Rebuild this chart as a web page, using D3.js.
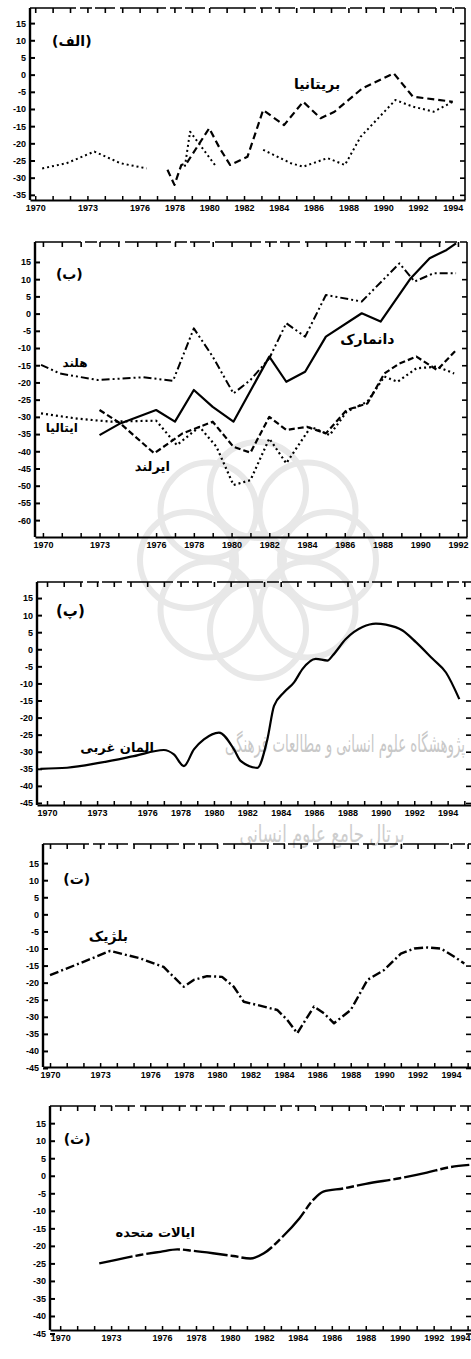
<!DOCTYPE html>
<html>
<head>
<meta charset="utf-8">
<script src="https://cdn.jsdelivr.net/npm/d3@7"></script>
<style>
  body { margin: 0; background: #fff; }
  svg { display: block; }
  .tick text { font-family: "Liberation Sans Narrow", "Liberation Sans", sans-serif; font-weight: bold; font-size: 9px; fill: #000; }
  .fa { font-family: "DejaVu Sans", sans-serif; font-weight: bold; fill: #000; }
</style>
</head>
<body>
<svg id="chart" width="471" height="1359"></svg>
<script>
// ---- tick labels ----
const yTicksA = [15, 10, 5, 0, -5, -10, -15, -20, -25, -30, -35];
const yTicksB = [15, 10, 5, 0, -5, -10, -15, -20, -25, -30, -35, -40, -45, -50, -55, -60];
const yTicksC = [15, 10, 5, 0, -5, -10, -15, -20, -25, -30, -35, -40, -45];
const xTicksTo92 = [1970, 1973, 1976, 1978, 1980, 1982, 1984, 1986, 1988, 1990, 1992];
const xTicksTo94 = [1970, 1973, 1976, 1978, 1980, 1982, 1984, 1986, 1988, 1990, 1992, 1994];

// ---- (الف) Britain, two series (null = gap in the line) ----
const ukDashYears  = [1977.6, 1978.0, 1978.4, 1978.7, 1980.0, 1980.6, 1981.2, 1982.2, 1983.1, 1984.3, 1985.4, 1986.4, 1987.2, 1988.8, 1990.6, 1991.7, 1994.0];
const ukDashValues = [-27.7, -32.1, -26.3, -25.8, -15.6, -21.4, -26.3, -23.9, -10.3, -14.7, -7.9, -12.7, -10.8, -4.0, 0.4, -6.4, -7.9];
const ukDotYears   = [1970.4, 1971.8, 1973.4, 1974.9, 1976.4, null, 1978.6, 1978.9, 1980.4, null, 1983.1, 1984.7, 1985.4, 1986.8, 1987.8, 1988.7, 1990.7, 1991.7, 1992.9, 1994.0];
const ukDotValues  = [-27.3, -25.8, -22.4, -25.8, -27.3, null, -26.8, -16.6, -26.8, null, -21.9, -25.8, -26.8, -24.3, -26.3, -18.1, -7.4, -9.3, -10.8, -7.9];

// ---- (ب) Netherlands, Denmark, Ireland, Italy ----
const nlYears  = [1969.9, 1970.9, 1972.9, 1975.3, 1976.9, 1978.0, 1979.0, 1980.1, 1981.0, 1982.0, 1982.9, 1983.9, 1985.0, 1986.9, 1988.9, 1989.7, 1990.7, 1991.9];
const nlValues = [-14.9, -17.4, -19.3, -18.5, -19.5, -4.3, -12.5, -23.2, -19.3, -13.0, -2.8, -6.7, 5.4, 3.5, 14.6, 9.3, 11.7, 11.7];
const dkYears  = [1973.0, 1974.1, 1976.0, 1977.0, 1978.0, 1979.0, 1980.1, 1982.0, 1982.9, 1983.9, 1985.0, 1986.9, 1987.9, 1989.5, 1990.5, 1991.4, 1991.9];
const dkValues = [-35.3, -31.9, -28.0, -31.4, -22.2, -27.1, -31.4, -12.5, -19.8, -16.9, -6.7, 0.1, -2.3, 10.3, 16.1, 18.5, 20.4];
const ieYears  = [1973.0, 1974.1, 1975.9, 1977.4, 1979.0, 1980.1, 1981.0, 1982.0, 1982.9, 1984.0, 1985.0, 1986.1, 1987.2, 1988.1, 1988.9, 1989.8, 1990.9, 1991.9];
const ieValues = [-28.0, -31.9, -40.6, -34.8, -31.4, -38.7, -40.4, -30.0, -33.8, -32.9, -34.8, -28.0, -26.1, -17.4, -14.5, -12.5, -16.4, -10.6];
const itYears  = [1969.9, 1971.8, 1973.6, 1976.0, 1977.1, 1978.3, 1979.2, 1980.1, 1981.0, 1982.0, 1982.9, 1984.2, 1985.2, 1986.1, 1987.2, 1988.1, 1988.8, 1989.8, 1990.9, 1991.8];
const itValues = [-29.0, -30.5, -31.4, -31.1, -38.2, -32.9, -38.7, -49.8, -48.4, -36.3, -43.5, -32.9, -35.3, -28.5, -25.6, -18.3, -19.8, -15.9, -15.4, -17.4];

// ---- (پ) West Germany ----
const deYears  = [1969.6, 1971.2, 1973.2, 1975.2, 1977.0, 1977.6, 1978.2, 1978.8, 1979.4, 1980.3, 1981.2, 1981.6, 1982.6, 1983.2, 1983.6, 1984.2, 1984.8, 1985.3, 1986.1, 1986.8, 1987.1, 1987.9, 1988.9, 1989.7, 1990.3, 1991.3, 1992.1, 1993.1, 1993.9, 1994.7];
const deValues = [-35.0, -34.7, -33.2, -31.3, -29.5, -30.8, -34.2, -29.3, -26.4, -24.4, -29.3, -32.7, -34.7, -26.4, -16.6, -12.6, -9.7, -5.8, -2.8, -3.3, -1.9, 3.0, 6.5, 7.5, 7.2, 5.5, 2.1, -2.8, -6.8, -14.6];

// ---- (ت) Belgium ----
const beYears  = [1970.0, 1972.0, 1973.6, 1975.4, 1976.8, 1977.4, 1978.0, 1978.6, 1979.4, 1980.3, 1981.0, 1981.6, 1982.8, 1983.6, 1984.2, 1984.8, 1985.8, 1986.4, 1987.0, 1988.0, 1989.0, 1990.0, 1991.0, 1991.8, 1992.6, 1993.4, 1994.2, 1994.8];
const beValues = [-17.8, -13.9, -10.7, -12.9, -15.4, -18.3, -21.2, -19.2, -18.1, -18.3, -21.2, -25.6, -27.0, -28.0, -30.9, -34.8, -27.0, -29.0, -31.9, -28.0, -19.2, -16.3, -11.5, -10.0, -9.7, -10.0, -12.4, -14.4];

// ---- (ث) United States ----
const usYears  = [1972.3, 1973.3, 1974.7, 1975.9, 1976.9, 1977.8, 1979.0, 1980.2, 1981.2, 1982.0, 1983.1, 1984.1, 1984.9, 1985.5, 1986.7, 1988.0, 1990.0, 1991.6, 1992.9, 1994.1];
const usValues = [-25.0, -24.0, -22.6, -21.7, -21.0, -21.4, -22.1, -22.9, -23.6, -22.1, -17.4, -12.1, -6.9, -4.5, -3.6, -2.3, -0.7, 0.9, 2.4, 3.1];

const zip = (ys, vs) => ys.map((yr, i) => ({ yr: yr, v: vs[i] }));

// panel layout (pixels) and what goes in each panel
const panels = [
  { left: 30, right: 465, top: 8, bottom: 200, xDomain: [1969.7, 1994.7], yDomain: [19.4, -36.5],
    yTicks: yTicksA, xTicks: xTicksTo94, rightLine: true,
    series: [
      { data: zip(ukDashYears, ukDashValues), dash: '7,4', width: 2.2 },
      { data: zip(ukDotYears, ukDotValues), dash: '2,3', width: 2 }
    ],
    labels: [
      { text: '(الف)', yr: 1972.1, v: 9.5, size: 14 },
      { text: 'بریتانیا', yr: 1986.2, v: -3.0, size: 14 }
    ] },
  { left: 35, right: 467, top: 242, bottom: 537, xDomain: [1969.58, 1992.48], yDomain: [20.8, -64.9],
    yTicks: yTicksB, xTicks: xTicksTo92, rightLine: true,
    series: [
      { data: zip(nlYears, nlValues), dash: '8,3,2,3,2,3', width: 2 },
      { data: zip(dkYears, dkValues), dash: null, width: 2.2 },
      { data: zip(ieYears, ieValues), dash: '6,3', width: 2.2 },
      { data: zip(itYears, itValues), dash: '2,3', width: 2.2 }
    ],
    labels: [
      { text: '(ب)', yr: 1971.4, v: 11.2, size: 14 },
      { text: 'هلند', yr: 1971.7, v: -14.4, size: 12 },
      { text: 'ایتالیا', yr: 1971.0, v: -33.3, size: 12 },
      { text: 'ایرلند', yr: 1975.8, v: -44.6, size: 13 },
      { text: 'دانمارک', yr: 1987.2, v: -7.7, size: 14 }
    ] },
  { left: 37, right: 471, top: 582, bottom: 805, xDomain: [1969.4, 1995.4], yDomain: [19.7, -45.6],
    yTicks: yTicksC, xTicks: xTicksTo94, rightLine: false,
    series: [ { data: zip(deYears, deValues), dash: null, width: 2.2, smooth: true } ],
    labels: [
      { text: '(پ)', yr: 1971.4, v: 11.2, size: 15 },
      { text: 'المان غربی', yr: 1974.2, v: -29.2, size: 13 }
    ] },
  { left: 43, right: 471, top: 844, bottom: 1067, xDomain: [1969.58, 1995.2], yDomain: [20.6, -44.7],
    yTicks: yTicksC, xTicks: xTicksTo94, rightLine: false,
    series: [ { data: zip(beYears, beValues), dash: '9,3,2,3', width: 2.4 } ],
    labels: [
      { text: '(ت)', yr: 1971.6, v: 10.0, size: 14 },
      { text: 'بلژیک', yr: 1973.5, v: -6.6, size: 14 }
    ] },
  { left: 50, right: 471, top: 1106, bottom: 1330, xDomain: [1969.4, 1994.2], yDomain: [19.9, -44],
    yTicks: yTicksC, xTicks: xTicksTo94, rightLine: false,
    series: [ { data: zip(usYears, usValues), dash: '34,3,8,3', width: 2.4, smooth: true } ],
    labels: [
      { text: '(ث)', yr: 1971.0, v: 10.1, size: 14 },
      { text: 'ایالات متحده', yr: 1975.6, v: -16.4, size: 13 }
    ] }
];

const W = 471;
const svg = d3.select('#chart');
svg.append('rect').attr('width', W).attr('height', 1359).attr('fill', '#fff');

// faint watermark behind the charts
const wm = svg.append('g').attr('fill', 'none').attr('stroke', '#e8e8e8').attr('stroke-width', 6);
const wmC = [258, 560];
d3.range(8).forEach(i => {
  const a = i * Math.PI / 4;
  wm.append('circle').attr('cx', wmC[0] + 70 * Math.cos(a)).attr('cy', wmC[1] + 70 * Math.sin(a)).attr('r', 48);
});
wm.append('circle').attr('cx', wmC[0]).attr('cy', wmC[1]).attr('r', 26);

// watermark lines of text, scaled to fit their box
function fitText(txt, cx, cy, width, size, color) {
  const t = svg.append('text').attr('x', 0).attr('y', 0).attr('text-anchor', 'middle')
    .attr('font-family', 'DejaVu Sans, sans-serif').attr('font-size', size).attr('fill', color)
    .text(txt);
  const bb = t.node().getBBox();
  const k = width / bb.width;
  t.attr('transform', `translate(${cx},${cy}) scale(${k},1.2)`);
}
fitText('پژوهشگاه علوم انسانی و مطالعات فرهنگی', 345, 752, 240, 20, '#c8c8c8');
fitText('پرتال جامع علوم انسانی', 322, 842, 165, 20, '#cdcdcd');

panels.forEach((p, k) => {
  const g = svg.append('g');
  const x = d3.scaleLinear().domain(p.xDomain).range([p.left, p.right]);
  const y = d3.scaleLinear().domain(p.yDomain).range([p.top, p.bottom]);
  const years = d3.range(Math.ceil(p.xDomain[0]), Math.floor(p.xDomain[1]) + 1);

  // top border: broken line with ticks hanging down
  g.append('line').attr('x1', p.left).attr('x2', p.right).attr('y1', p.top).attr('y2', p.top)
    .attr('stroke', '#000').attr('stroke-width', 1.6).attr('stroke-dasharray', '46,4,12,3,20,5');
  g.append('g').attr('transform', `translate(0,${p.top})`)
    .call(d3.axisTop(x).tickValues(years).tickSize(-5).tickSizeOuter(0).tickFormat(''))
    .call(s => s.select('.domain').remove())
    .call(s => s.selectAll('line').attr('stroke-width', 1.6));

  // right side ticks
  if (p.rightLine) {
    g.append('line').attr('x1', p.right).attr('x2', p.right).attr('y1', p.top).attr('y2', p.bottom)
      .attr('stroke', '#000').attr('stroke-width', 1.6);
  }
  g.append('g').attr('transform', `translate(${p.right - 4},0)`)
    .call(d3.axisRight(y).tickValues(p.yTicks).tickSize(-5).tickSizeOuter(0).tickFormat(''))
    .call(s => s.select('.domain').remove())
    .call(s => s.selectAll('line').attr('stroke-width', 1.6).attr('transform', 'translate(4,0)'));

  // bottom axis: yearly ticks pointing up + year labels
  g.append('g').attr('transform', `translate(0,${p.bottom})`)
    .call(d3.axisBottom(x).tickValues(years).tickSize(-4).tickSizeOuter(0).tickFormat(''))
    .call(s => s.select('.domain').attr('stroke-width', 2))
    .call(s => s.selectAll('line').attr('stroke-width', 1.5));
  g.append('g').attr('transform', `translate(0,${p.bottom})`)
    .call(d3.axisBottom(x).tickValues(p.xTicks).tickSize(0).tickPadding(5).tickFormat(d => d))
    .call(s => s.select('.domain').remove())
    .call(s => s.selectAll('text')
      .filter(d => x(d) + 11 > W)
      .attr('text-anchor', 'end')
      .attr('x', d => W - 1 - x(d)));

  // left axis: thick, ticks pointing inside
  g.append('g').attr('transform', `translate(${p.left},0)`)
    .call(d3.axisLeft(y).tickValues(p.yTicks).tickSize(-5).tickSizeOuter(0).tickPadding(4).tickFormat(d => d))
    .call(s => s.select('.domain').attr('stroke-width', 2.4).attr('d', `M0,${p.top}V${p.bottom}`))
    .call(s => s.selectAll('line').attr('stroke-width', 2));

  // lines
  const clipId = 'clip' + k;
  svg.append('clipPath').attr('id', clipId).append('rect')
    .attr('x', p.left).attr('y', p.top - 2).attr('width', p.right - p.left).attr('height', p.bottom - p.top + 2);
  const lines = g.append('g').attr('clip-path', `url(#${clipId})`);
  p.series.forEach(s => {
    const line = d3.line()
      .defined(d => d.v != null)
      .x(d => x(d.yr))
      .y(d => y(d.v))
      .curve(s.smooth ? d3.curveMonotoneX : d3.curveLinear);
    lines.append('path').datum(s.data)
      .attr('d', line)
      .attr('fill', 'none')
      .attr('stroke', '#000')
      .attr('stroke-width', s.width)
      .attr('stroke-linejoin', 'round')
      .attr('stroke-dasharray', s.dash);
  });

  // panel letter and country names
  g.selectAll('text.fa').data(p.labels).enter().append('text')
    .attr('class', 'fa')
    .attr('x', d => x(d.yr))
    .attr('y', d => y(d.v))
    .attr('text-anchor', 'middle')
    .attr('dominant-baseline', 'middle')
    .attr('font-size', d => d.size)
    .text(d => d.text);
});
</script>
</body>
</html>
